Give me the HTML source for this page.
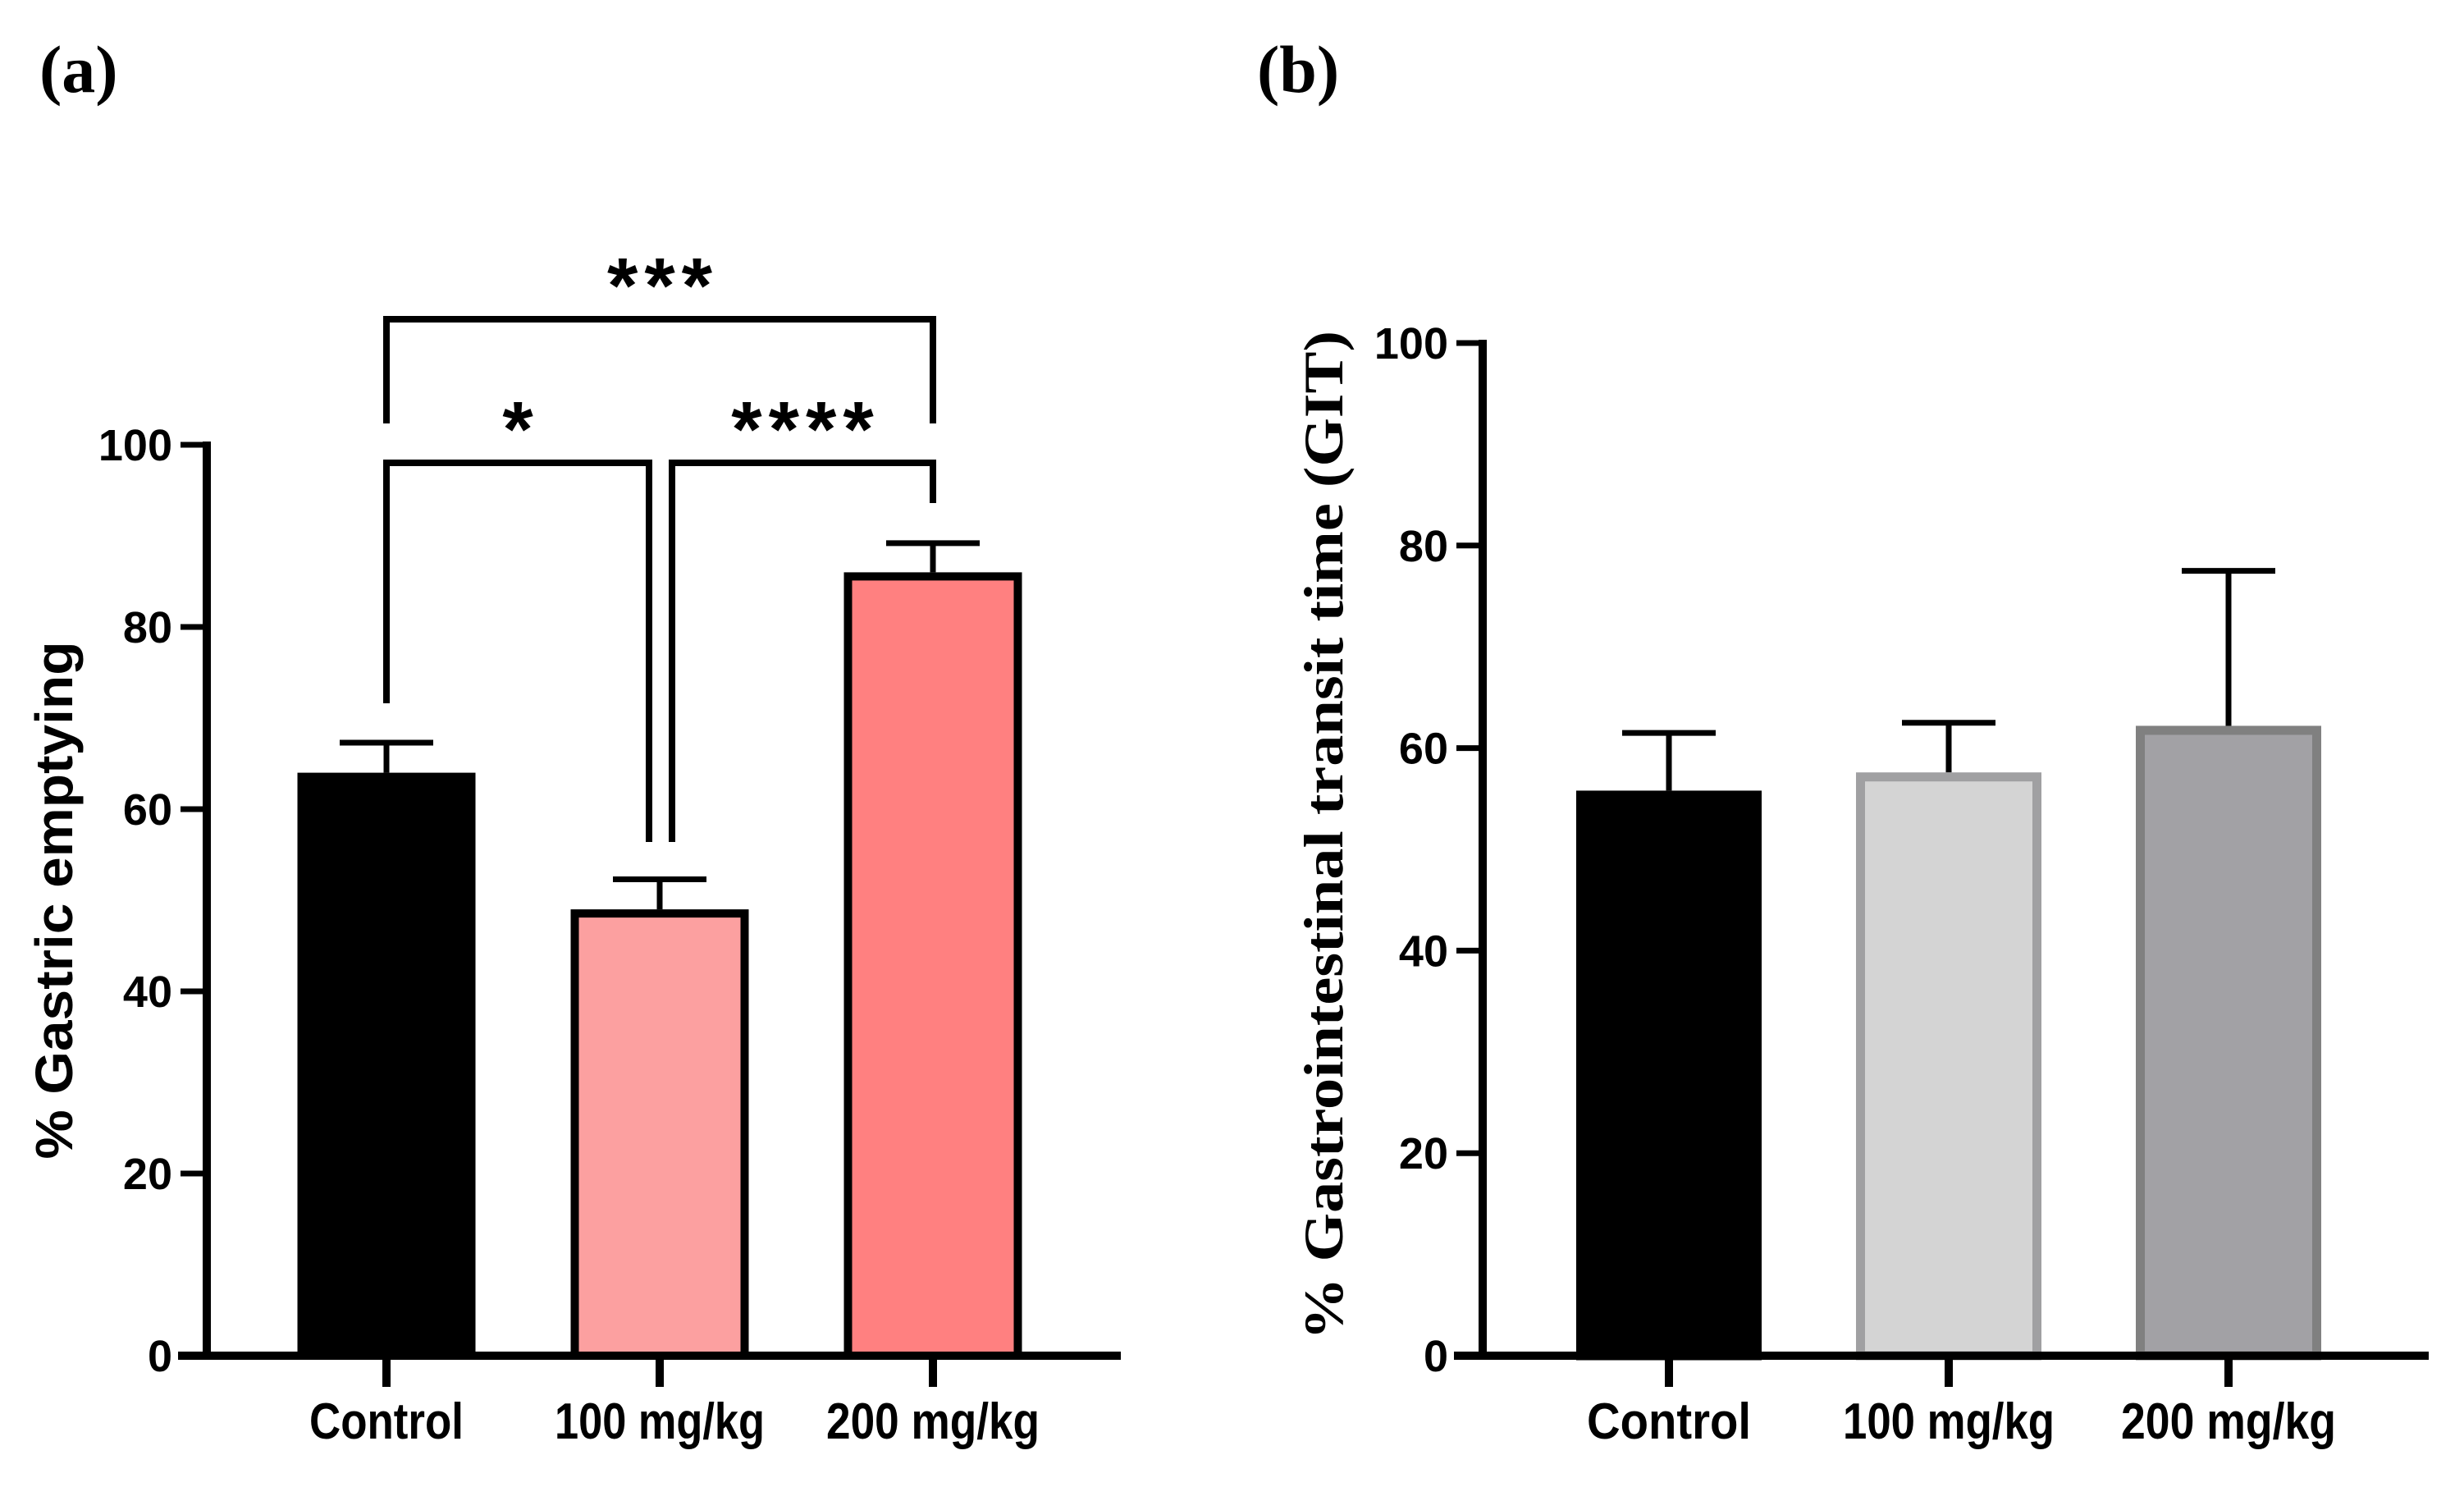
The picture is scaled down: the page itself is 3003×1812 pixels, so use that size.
<!DOCTYPE html>
<html><head><meta charset="utf-8"><style>
html,body{margin:0;padding:0;background:#fff;}
svg{display:block;}
text{font-family:"Liberation Sans",Arial,sans-serif;font-weight:bold;fill:#000;}
.serif{font-family:"Liberation Serif","Times New Roman",serif;}
</style></head><body>
<svg id="fig" width="3003" height="1812" viewBox="0 0 3003 1812" xmlns="http://www.w3.org/2000/svg">
<text class="serif" x="48" y="112" font-size="82">(a)</text>
<text class="serif" x="1532" y="112" font-size="82">(b)</text>
<g id="pa"></g>
<g id="pb"></g>
</svg>
<script>
// Panel (a) data
const categoriesA = ["Control", "100 mg/kg", "200 mg/kg"];
const meansA = [64, 49, 86];
const errorsA = [3.3, 3.3, 3.2];
// Panel (b) data
const categoriesB = ["Control", "100 mg/kg", "200 mg/kg"];
const meansB = [55.8, 57.6, 62.2];
const errorsB = [5.7, 4.9, 15.3];
const yTicks = [0, 20, 40, 60, 80, 100];
const sigLabels = ["***", "*", "****"];

const NS = "http://www.w3.org/2000/svg";
function mk(parent, tag, attrs, txt) {
  const e = document.createElementNS(NS, tag);
  for (const k in attrs) e.setAttribute(k, attrs[k]);
  if (txt !== undefined) e.textContent = txt;
  parent.appendChild(e);
  return e;
}

function drawPanel(g, cfg, cats, means, errs) {
  const y = v => cfg.y0 - v * (cfg.y0 - cfg.y100) / 100;
  const x = i => cfg.xc0 + i * cfg.step;
  cats.forEach((c, i) => {
    const hw = cfg.bw / 2;
    const top = y(means[i]);
    const eTop = y(means[i] + errs[i]);
    const ln = mk(g, "line", {x1: x(i), x2: x(i), y1: top, y2: eTop, stroke: "#000", "stroke-width": 7});
    
    
    const cap = mk(g, "line", {x1: x(i) - 57, x2: x(i) + 57, y1: eTop, y2: eTop, stroke: "#000", "stroke-width": 7});
    
    
    const sw = cfg.sw;
    const r = mk(g, "rect", {x: x(i) - hw + sw / 2, y: top + sw / 2, width: cfg.bw - sw, height: cfg.y0 - top - sw / 2,
      fill: cfg.fills[i], stroke: cfg.strokes[i], "stroke-width": sw});
    
    
    const t = mk(g, "line", {x1: x(i), x2: x(i), y1: cfg.y0, y2: cfg.y0 + 38, stroke: "#000", "stroke-width": 10});
    
    
    const lab = mk(g, "text", {x: x(i), y: 1753, "font-size": 62, "text-anchor": "middle",
      textLength: cfg.labW[i], lengthAdjust: "spacingAndGlyphs"}, c);
    
    
  });
  const ya = mk(g, "line", {x1: cfg.ax, x2: cfg.ax, y1: cfg.y100 - 4, y2: cfg.y0 + 5, stroke: "#000", "stroke-width": 10});
  
  
  const xa = mk(g, "line", {x1: cfg.ax - 35, x2: cfg.xEnd, y1: cfg.y0, y2: cfg.y0, stroke: "#000", "stroke-width": 10});
  
  
  yTicks.forEach(v => {
    const tk = mk(g, "line", {x1: cfg.ax - 32, x2: cfg.ax, y1: y(v), y2: y(v), stroke: "#000", "stroke-width": 7});
    
    
    const tl = mk(g, "text", {x: cfg.ax - 42, y: y(v) + 19, "font-size": 54, "text-anchor": "end"}, String(v));
    
    
  });
  const yl = mk(g, "text", {x: 0, y: 0, "font-size": cfg.tFont, "text-anchor": "middle",
    textLength: cfg.tLen, lengthAdjust: "spacingAndGlyphs",
    transform: "translate(" + cfg.tx + "," + cfg.ty + ") rotate(-90)"}, cfg.title);
  if (cfg.serif) yl.setAttribute("class", "serif");
  
  
  return {x, y};
}

const A = drawPanel(document.getElementById("pa"), {
  y0: 1652, y100: 542, ax: 252, xEnd: 1366, xc0: 471, step: 333, bw: 217, sw: 10,
  fills: ["#000", "#fca0a0", "#ff8080"], strokes: ["#000", "#000", "#000"],
  labW: [188, 256, 260], title: "% Gastric emptying", tFont: 64, tLen: 631, tx: 88, ty: 1097
}, categoriesA, meansA, errorsA);

drawPanel(document.getElementById("pb"), {
  y0: 1652, y100: 418, ax: 1807, xEnd: 2960, xc0: 2034, step: 341, bw: 226, sw: 11,
  fills: ["#000", "#d4d4d4", "#a2a1a5"], strokes: ["#000", "#a0a0a2", "#808080"],
  labW: [200, 258, 262], title: "% Gastrointestinal transit time (GIT)", tFont: 68, tLen: 1230, tx: 1636, ty: 1018, serif: true
}, categoriesB, meansB, errorsB);

const ga = document.getElementById("pa");
const brackets = [
  {a: 0, b: 2, yb: 389, la: 516, lb: 516, dx1: 0, dx2: 0, label: sigLabels[0]},
  {a: 0, b: 1, yb: 564, la: 857, lb: 1026, dx1: 0, dx2: -13, label: sigLabels[1]},
  {a: 1, b: 2, yb: 564, la: 1026, lb: 613, dx1: 15, dx2: 0, label: sigLabels[2]}
];
brackets.forEach((br, k) => {
  const x1 = A.x(br.a) + br.dx1, x2 = A.x(br.b) + br.dx2;
  const p = mk(ga, "path", {d: "M" + x1 + "," + br.la + " V" + br.yb + " H" + x2 + " V" + br.lb,
    fill: "none", stroke: "#000", "stroke-width": 8, "stroke-linejoin": "miter"});
  
  
  const t = mk(ga, "text", {x: (x1 + x2) / 2 + 4, y: br.yb - 8, "font-size": 96, "text-anchor": "middle", "letter-spacing": 8}, br.label);
  
  
});
</script>
</body></html>
